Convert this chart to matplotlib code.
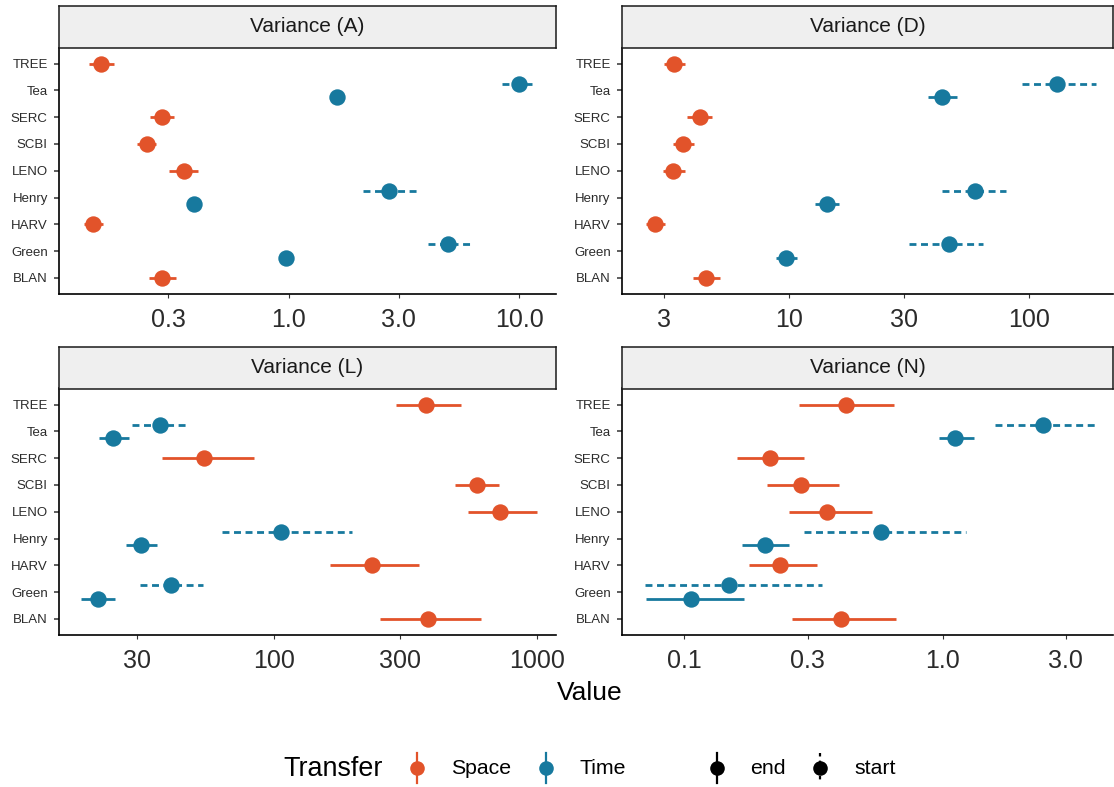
import matplotlib
matplotlib.use('Agg')
import matplotlib.pyplot as plt
import numpy as np

plt.rcParams['font.family'] = ['Liberation Sans', 'DejaVu Sans']
plt.rcParams['lines.scale_dashes'] = False

space_col = '#E2532A'
time_col = '#17799E'

# y order, bottom to top
sites = ['BLAN', 'Green', 'HARV', 'Henry', 'LENO', 'SCBI', 'SERC', 'Tea', 'TREE']
space_sites = ['TREE', 'SERC', 'SCBI', 'LENO', 'HARV', 'BLAN']
time_sites = ['Tea', 'Henry', 'Green']

# Variance (A)
a_space_mid = [0.153, 0.282, 0.242, 0.350, 0.142, 0.283]
a_space_lo = [0.136, 0.251, 0.219, 0.303, 0.130, 0.247]
a_space_hi = [0.174, 0.317, 0.267, 0.405, 0.156, 0.325]
a_end_mid = [1.62, 0.390, 0.972]
a_end_lo = [1.56, 0.377, 0.94]
a_end_hi = [1.68, 0.403, 1.0]
a_start_mid = [10.0, 2.72, 4.90]
a_start_lo = [8.37, 2.09, 4.0]
a_start_hi = [11.8, 3.58, 6.11]

# Variance (D)
d_space_mid = [3.31, 4.22, 3.60, 3.28, 2.74, 4.48]
d_space_lo = [3.0, 3.75, 3.27, 2.96, 2.52, 3.94]
d_space_hi = [3.68, 4.75, 4.01, 3.68, 3.03, 5.13]
d_end_mid = [43.2, 14.3, 9.67]
d_end_lo = [37.8, 12.8, 8.8]
d_end_hi = [50.0, 16.1, 10.8]
d_start_mid = [131, 59.2, 46.2]
d_start_lo = [93.5, 43.3, 31.6]
d_start_hi = [190, 80.2, 64.0]

# Variance (L)
l_space_mid = [379, 54.0, 590, 720, 236, 385]
l_space_lo = [290, 37.4, 488, 545, 163, 252]
l_space_hi = [512, 84.0, 718, 1000, 356, 609]
l_end_mid = [24.4, 31.1, 21.3]
l_end_lo = [21.6, 27.3, 18.4]
l_end_hi = [28.0, 35.8, 24.8]
l_start_mid = [36.9, 106, 40.6]
l_start_lo = [28.9, 63.1, 30.8]
l_start_hi = [46.4, 197, 53.5]

# Variance (N)
n_space_mid = [0.423, 0.214, 0.283, 0.356, 0.235, 0.404]
n_space_lo = [0.279, 0.160, 0.210, 0.254, 0.178, 0.262]
n_space_hi = [0.650, 0.290, 0.397, 0.533, 0.326, 0.662]
n_end_mid = [1.12, 0.206, 0.1065]
n_end_lo = [0.966, 0.167, 0.0714]
n_end_hi = [1.32, 0.254, 0.170]
n_start_mid = [2.45, 0.576, 0.149]
n_start_lo = [1.59, 0.292, 0.0703]
n_start_hi = [3.96, 1.235, 0.340]

panels = [
    ('Variance (A)', (0.101, 14.4), [0.3, 1, 3, 10], ['0.3', '1.0', '3.0', '10.0'],
     (a_space_mid, a_space_lo, a_space_hi), (a_end_mid, a_end_lo, a_end_hi), (a_start_mid, a_start_lo, a_start_hi)),
    ('Variance (D)', (2.0, 224), [3, 10, 30, 100], ['3', '10', '30', '100'],
     (d_space_mid, d_space_lo, d_space_hi), (d_end_mid, d_end_lo, d_end_hi), (d_start_mid, d_start_lo, d_start_hi)),
    ('Variance (L)', (15.2, 1178), [30, 100, 300, 1000], ['30', '100', '300', '1000'],
     (l_space_mid, l_space_lo, l_space_hi), (l_end_mid, l_end_lo, l_end_hi), (l_start_mid, l_start_lo, l_start_hi)),
    ('Variance (N)', (0.0574, 4.57), [0.1, 0.3, 1, 3], ['0.1', '0.3', '1.0', '3.0'],
     (n_space_mid, n_space_lo, n_space_hi), (n_end_mid, n_end_lo, n_end_hi), (n_start_mid, n_start_lo, n_start_hi)),
]

W, H = 1114, 787
fig = plt.figure(figsize=(W / 100, H / 100), dpi=100)

# panel boxes in pixels: left, right, strip top, axes top, axes bottom
boxes = [
    (59, 556, 6, 47.5, 294),
    (622, 1113, 6, 47.5, 294),
    (59, 556, 347, 388.5, 635),
    (622, 1113, 347, 388.5, 635),
]

ms = 11.8
lw = 2.0
dash = (0, (5, 3.3))
dodge = 0.25

for (title, xlim, ticks, ticklabels, sp, en, st), (x0, x1, s0, y0, y1) in zip(panels, boxes):
    ax = fig.add_axes([x0 / W, 1 - y1 / H, (x1 - x0) / W, (y1 - y0) / H])
    ax.set_xscale('log')
    ax.set_xlim(*xlim)
    ax.set_ylim(0.4, len(sites) + 0.6)

    # space sites, solid ranges
    for name, m, lo, hi in zip(space_sites, *sp):
        y = sites.index(name) + 1
        ax.plot([lo, hi], [y, y], color=space_col, lw=lw, solid_capstyle='butt')
        ax.plot(m, y, 'o', color=space_col, ms=ms, mew=0)
    # time sites: start dashed above, end solid below
    for name, m, lo, hi in zip(time_sites, *st):
        y = sites.index(name) + 1 + dodge
        ax.plot([lo, hi], [y, y], color=time_col, lw=lw, linestyle=dash)
        ax.plot(m, y, 'o', color=time_col, ms=ms, mew=0)
    for name, m, lo, hi in zip(time_sites, *en):
        y = sites.index(name) + 1 - dodge
        ax.plot([lo, hi], [y, y], color=time_col, lw=lw, solid_capstyle='butt')
        ax.plot(m, y, 'o', color=time_col, ms=ms, mew=0)

    ax.set_yticks(range(1, len(sites) + 1))
    ax.set_yticklabels(sites, fontsize=9.5, color='#2b2b2b')
    ax.set_xticks(ticks)
    ax.set_xticklabels(ticklabels, fontsize=18, color='#2b2b2b')
    ax.xaxis.set_minor_locator(matplotlib.ticker.NullLocator())
    ax.tick_params(axis='x', length=3.2, width=0.8, color='#333333', pad=7)
    ax.tick_params(axis='y', length=3.6, width=1.1, color='#333333', pad=4.5)
    for s in ['top', 'right']:
        ax.spines[s].set_visible(False)
    for s in ['left', 'bottom']:
        ax.spines[s].set_linewidth(1.2)
        ax.spines[s].set_color('black')

    # facet strip
    sax = fig.add_axes([x0 / W, 1 - y0 / H, (x1 - x0) / W, (y0 - s0) / H])
    sax.set_facecolor('#EFEFEF')
    sax.set_xticks([])
    sax.set_yticks([])
    for s in sax.spines.values():
        s.set_linewidth(1.1)
        s.set_color('#1a1a1a')
    sax.text(0.5, 0.5, title, ha='center', va='center', fontsize=15, color='#1a1a1a',
             transform=sax.transAxes)

fig.text(590 / W, 1 - 700 / H, 'Value', ha='center', va='baseline', fontsize=19, color='black')

# legend drawn on an overlay in pixel units
lax = fig.add_axes([0, 0, 1, 1], facecolor='none')
lax.set_xlim(0, W)
lax.set_ylim(H, 0)
lax.axis('off')
ky = 768
lax.text(283, ky + 1, 'Transfer', ha='left', va='center', fontsize=19.4, color='black')
keys = [
    (417, space_col, '-', 'Space', 451),
    (546, time_col, '-', 'Time', 580),
    (717, 'black', '-', 'end', 750),
    (820, 'black', (0, (2.5, 3)), 'start', 854),
]
for kx, col, ls, lab, tx in keys:
    lax.plot([kx, kx], [ky - 15, ky + 15], color=col, lw=1.6, linestyle=ls)
    lax.plot(kx, ky, 'o', color=col, ms=10.5, mew=0)
    lax.text(tx, ky + 1, lab, ha='left', va='center', fontsize=15.3, color='black')

fig.savefig('out.png', dpi=100)
